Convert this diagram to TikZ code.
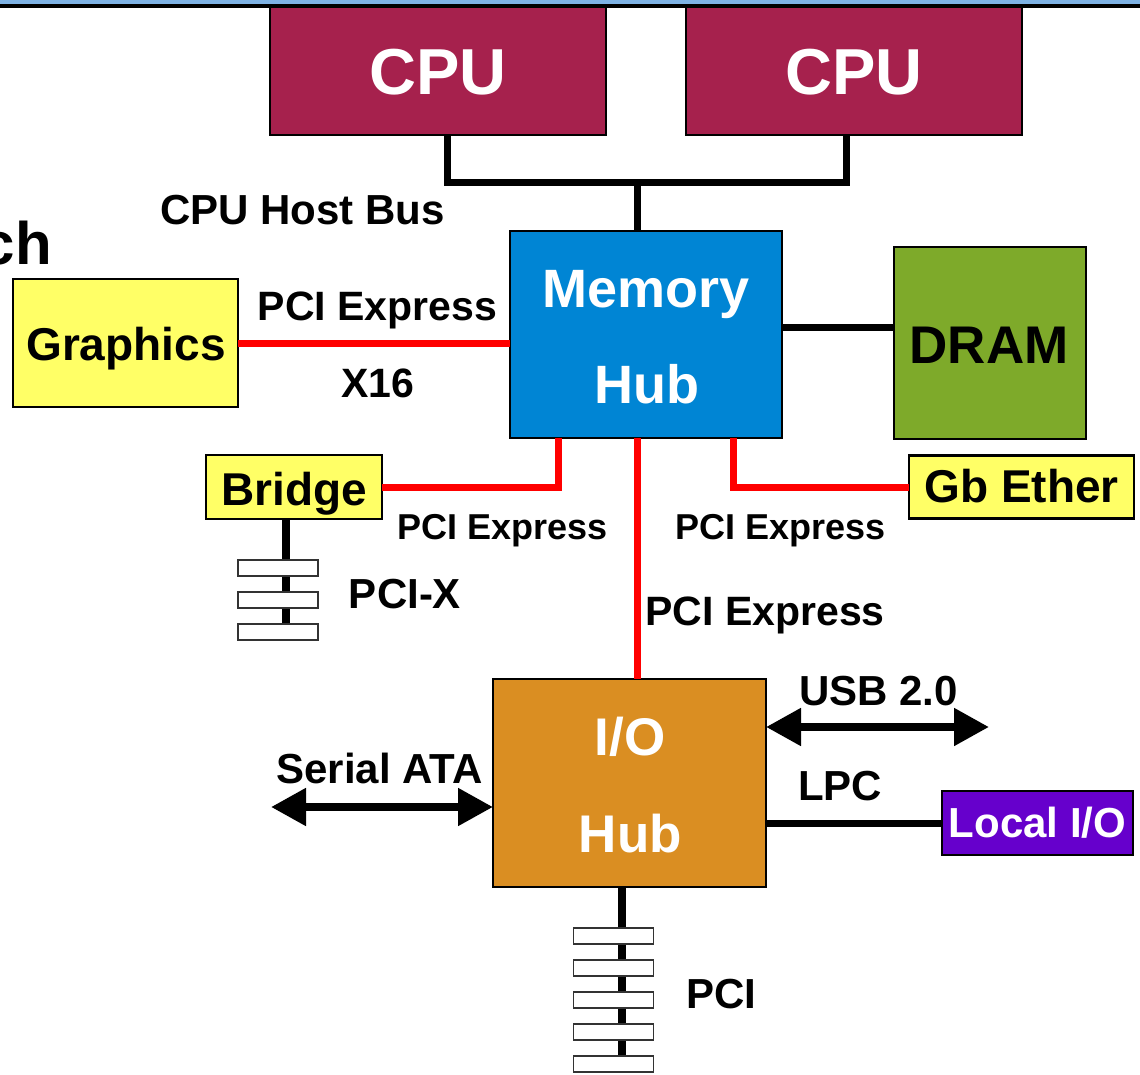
\documentclass[tikz,border=0pt]{standalone}
\usepackage{fontspec}
\setmainfont{Liberation Sans}
\usetikzlibrary{arrows.meta}
\definecolor{cpured}{HTML}{A6214D}
\definecolor{hubblue}{HTML}{0085D4}
\definecolor{dramgreen}{HTML}{7EAA2A}
\definecolor{ioorange}{HTML}{DA8E22}
\definecolor{boxyellow}{HTML}{FFFF66}
\definecolor{lpurple}{HTML}{6600CC}
\definecolor{topblue}{HTML}{7EB2E4}
\newcommand\fsz[1]{\fontsize{#1}{#1}\selectfont\bfseries}
\tikzset{
  blk/.style={draw=black, line width=2.5pt, inner sep=0, outer sep=0},
  lbl/.style={inner sep=0, anchor=base, text=black},
  wlbl/.style={inner sep=0, anchor=base, text=white},
  bus/.style={line width=7pt, black},
  pcie/.style={line width=7pt, red},
  stem/.style={line width=8pt, black},
  slotbox/.style={draw=black!80, line width=1.5pt, fill=white, minimum width=80pt, minimum height=16pt, inner sep=0},
  bigtip/.style={{Triangle[length=35pt,width=36pt]}-{Triangle[length=35pt,width=36pt]}, line width=8pt, black}
}
\begin{document}
\begin{tikzpicture}[x=1pt,y=-1pt]
\useasboundingbox (0,0) rectangle (1140,1075);
\clip (0,0) rectangle (1140,1075);

% partial title text at left
\node[lbl, anchor=base east, font=\fsz{60}] (title) at (52,265) {ch};

% CPUs
\node[blk, fill=cpured, minimum width=336pt, minimum height=129pt] (cpu1) at (438,70.5) {};
\node[blk, fill=cpured, minimum width=336pt, minimum height=129pt] (cpu2) at (854,70.5) {};
\node[wlbl, font=\fsz{65}] (cpu1t) at (438,95) {CPU};
\node[wlbl, font=\fsz{65}] (cpu2t) at (854,95) {CPU};

% top band
\fill[topblue] (0,0) rectangle (1140,4);
\fill[black] (0,4) rectangle (1140,8.5);

% Memory hub
\node[blk, fill=hubblue, minimum width=272pt, minimum height=207pt] (mh) at (646,334.5) {};
\node[wlbl, font=\fsz{54}] (mht1) at (646.5,307) {Memory};
\node[wlbl, font=\fsz{54}] (mht2) at (646.5,403) {Hub};

% DRAM
\node[blk, fill=dramgreen, minimum width=192pt, minimum height=192pt] (dram) at (990,343) {};
\node[lbl, font=\fsz{53}] (dramt) at (989,363) {DRAM};

% Graphics
\node[blk, fill=boxyellow, minimum width=225pt, minimum height=128pt] (gfx) at (125.5,343) {};
\node[lbl, font=\fsz{46}] (gfxt) at (126,360) {Graphics};

% Bridge
\node[blk, fill=boxyellow, minimum width=176pt, minimum height=64pt] (br) at (294,487) {};
\node[lbl, font=\fsz{46}] (brt) at (294,505) {Bridge};

% Gb Ether
\node[blk, fill=boxyellow, minimum width=225pt, minimum height=63pt] (ge) at (1021.5,487) {};
\node[lbl, font=\fsz{46}] (get) at (1021.5,502) {Gb Ether};

% I/O hub
\node[blk, fill=ioorange, minimum width=273pt, minimum height=208pt] (io) at (629.5,783) {};
\node[wlbl, font=\fsz{53}] (iot1) at (630,755) {I/O};
\node[wlbl, font=\fsz{53}] (iot2) at (630.5,852) {Hub};

% Local I/O
\node[blk, fill=lpurple, minimum width=191pt, minimum height=64pt] (lio) at (1037.5,823) {};
\node[wlbl, font=\fsz{42}] (liot) at (1037.5,837) {Local I/O};

% CPU host bus
\coordinate (busL) at (447,183);
\coordinate (busR) at (846,183);
\coordinate (busM) at (637,183);
\draw[bus] (cpu1.south -| busL) -- (busL) -- (busR) -- (cpu2.south -| busR);
\draw[bus] (busM) -- (mh.north -| busM);
\node[lbl, font=\fsz{42}] (hostbus) at (302.5,225) {CPU Host Bus};

% Memory hub - DRAM
\coordinate (dramy) at (0,327);
\draw[bus] (mh.east |- dramy) -- (dram.west |- dramy);

% PCI Express links
\draw[pcie] (gfx.east) -- (mh.west |- gfx.east);
\node[lbl, font=\fsz{41}] (pcie1) at (377.5,320) {PCI Express};
\node[lbl, font=\fsz{41}] (x16) at (377.5,397) {X16};

\draw[pcie] (br.east) -| ([xshift=-88pt]mh.south);
\node[lbl, font=\fsz{36}] (pcie2) at (503,539) {PCI Express};

\draw[pcie] (ge.west) -| ([xshift=87pt]mh.south);
\node[lbl, font=\fsz{36}] (pcie3) at (781,539) {PCI Express};

\draw[pcie] (mh.south -| busM) -- (io.north -| busM);
\node[lbl, font=\fsz{41}] (pcie4) at (765,625) {PCI Express};

% PCI-X slots
\coordinate (pcixstem) at (286,624);
\draw[stem] (br.south -| pcixstem) -- (pcixstem);
\node[slotbox] (xs1) at (278,568) {};
\node[slotbox] (xs2) at (278,600) {};
\node[slotbox] (xs3) at (278,632) {};
\node[lbl, font=\fsz{42}] (pcix) at (405,608) {PCI-X};

% PCI slots
\coordinate (pcistem) at (622,1056);
\draw[stem] (io.south -| pcistem) -- (pcistem);
\node[slotbox] (ps1) at (613.5,936) {};
\node[slotbox] (ps2) at (613.5,968) {};
\node[slotbox] (ps3) at (613.5,1000) {};
\node[slotbox] (ps4) at (613.5,1032) {};
\node[slotbox] (ps5) at (613.5,1064) {};
\node[lbl, font=\fsz{42}] (pci) at (721,1008) {PCI};

% Serial ATA
\coordinate (sataL) at (271,807);
\draw[bigtip] (sataL) -- (io.west |- sataL);
\node[lbl, font=\fsz{42}] (sata) at (379.5,783) {Serial ATA};

% USB
\coordinate (usbR) at (989,727);
\draw[bigtip] (io.east |- usbR) -- (usbR);
\node[lbl, font=\fsz{42}] (usb) at (878.5,705) {USB 2.0};

% LPC
\draw[bus] (io.east |- lio.west) -- (lio.west);
\node[lbl, font=\fsz{42}] (lpc) at (840,800) {LPC};
\end{tikzpicture}
\end{document}
